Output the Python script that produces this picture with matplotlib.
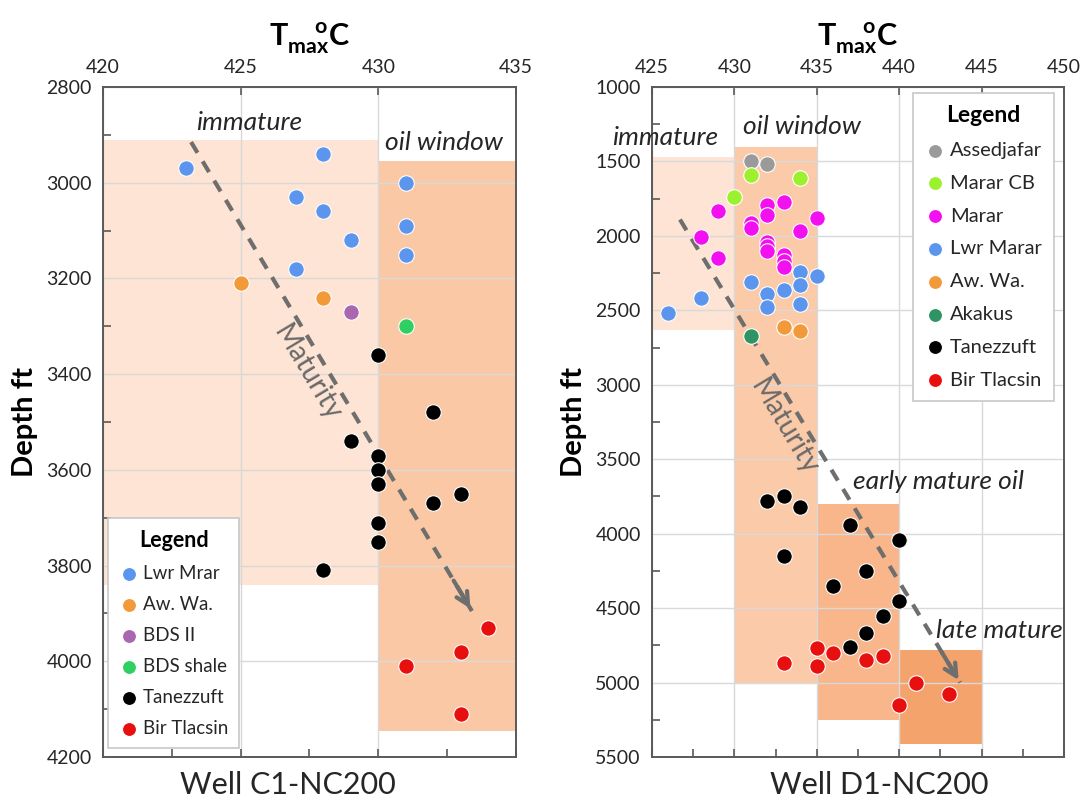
#!/usr/bin/env python3
"""Tmax vs depth for wells C1-NC200 and D1-NC200."""
import matplotlib
matplotlib.use('Agg')
import matplotlib.pyplot as plt
from matplotlib.ticker import MultipleLocator

plt.rcParams['font.family'] = ['Lato', 'DejaVu Sans']
plt.rcParams['mathtext.fontset'] = 'custom'
plt.rcParams['mathtext.rm'] = 'Lato'
plt.rcParams['mathtext.bf'] = 'Lato:bold'

# ---- Well C1-NC200 (Tmax degC, depth ft) ----
c1_lwr_mrar_t = [423, 428, 427, 428, 429, 427, 431, 431, 431]
c1_lwr_mrar_d = [2970, 2940, 3030, 3060, 3120, 3180, 3000, 3090, 3150]
c1_aw_wa_t = [425, 428]
c1_aw_wa_d = [3210, 3240]
c1_bds2_t = [429]
c1_bds2_d = [3270]
c1_bds_shale_t = [431]
c1_bds_shale_d = [3300]
c1_tanezzuft_t = [430, 432, 429, 430, 430, 430, 432, 433, 430, 430, 428]
c1_tanezzuft_d = [3360, 3480, 3540, 3570, 3600, 3630, 3670, 3650, 3710, 3750, 3810]
c1_bir_tlacsin_t = [434, 433, 431, 433]
c1_bir_tlacsin_d = [3930, 3980, 4010, 4110]

# ---- Well D1-NC200 ----
d1_assedjafar_t = [431, 432]
d1_assedjafar_d = [1500, 1520]
d1_marar_cb_t = [431, 434, 430]
d1_marar_cb_d = [1590, 1610, 1740]
d1_marar_t = [429, 432, 433, 432, 435, 431, 431, 434, 428, 432, 432, 432, 433, 433, 429, 433]
d1_marar_d = [1830, 1790, 1770, 1860, 1880, 1910, 1950, 1970, 2010, 2040, 2070, 2100,
              2130, 2170, 2150, 2210]
d1_lwr_marar_t = [434, 435, 431, 434, 433, 432, 428, 426, 432, 434]
d1_lwr_marar_d = [2240, 2270, 2310, 2330, 2360, 2390, 2420, 2520, 2480, 2460]
d1_aw_wa_t = [433, 434]
d1_aw_wa_d = [2610, 2640]
d1_akakus_t = [431]
d1_akakus_d = [2670]
d1_tanezzuft_t = [432, 433, 434, 437, 440, 433, 438, 436, 440, 439, 438, 437]
d1_tanezzuft_d = [3780, 3750, 3820, 3940, 4040, 4150, 4250, 4350, 4450, 4550, 4670, 4760]
d1_bir_tlacsin_t = [435, 436, 438, 439, 433, 435, 441, 443, 440]
d1_bir_tlacsin_d = [4770, 4800, 4850, 4820, 4870, 4890, 5000, 5080, 5150]

# maturity zones: (t0, t1, top depth, bottom depth)
c1_zones = [(420, 430, 2910, 3840), (430, 435, 2955, 4145)]
d1_zones = [(425, 430, 1470, 2630), (430, 435, 1400, 5000),
            (435, 440, 3800, 5250), (440, 445, 4780, 5410)]

# maturity arrows: (t_start, d_start, t_end, d_end)
c1_arrow = (423.2, 2915, 433.4, 3895)
d1_arrow = (426.7, 1890, 443.7, 5000)

COLORS = {
    'Lwr Mrar': '#5b95ee', 'Lwr Marar': '#5b95ee', 'Aw. Wa.': '#f29a3a',
    'BDS II': '#a967b0', 'BDS shale': '#2fcf62', 'Tanezzuft': '#000000',
    'Bir Tlacsin': '#e8100f', 'Assedjafar': '#9a9a9a', 'Marar CB': '#9cf02e',
    'Marar': '#f20ff0', 'Akakus': '#2f9463',
}
SPINE = '#595959'
ARROW = '#6e6e6e'
TXT = '#262626'


def style_axes(ax, xlim, ylim, xmaj, ymaj, ymin):
    ax.set_xlim(*xlim)
    ax.set_ylim(ylim[1], ylim[0])
    ax.xaxis.set_major_locator(MultipleLocator(xmaj))
    ax.xaxis.set_minor_locator(MultipleLocator(xmaj / 2))
    ax.yaxis.set_major_locator(MultipleLocator(ymaj))
    ax.yaxis.set_minor_locator(MultipleLocator(ymin))
    ax.tick_params(axis='x', which='major', top=True, bottom=True, labeltop=True,
                   labelbottom=False, direction='in', length=6, width=1.2,
                   color=SPINE, labelsize=14, pad=8, labelcolor=TXT)
    ax.tick_params(axis='x', which='minor', top=False, bottom=True,
                   direction='in', length=6, width=1.2, color=SPINE)
    ax.tick_params(axis='y', which='major', length=0, labelsize=14, pad=8,
                   labelcolor=TXT)
    ax.tick_params(axis='y', which='minor', left=True, direction='in',
                   length=6, width=1.2, color=SPINE)
    for s in ax.spines.values():
        s.set_color(SPINE)
        s.set_linewidth(1.4)
    ax.set_axisbelow('line')
    ax.grid(True, which='major', color='#d9d9d9', lw=1.0)
    ax.xaxis.set_label_position('top')
    ax.set_xlabel(r'$\mathbf{T}_{\mathbf{max}}^{\hspace{1.3}\mathbf{o}}\mathbf{C}$',
                  fontsize=22, labelpad=10, color='black')
    ax.set_ylabel('Depth ft', fontsize=21, fontweight='bold', labelpad=6)


def draw_zones(ax, zones, colors):
    for (t0, t1, d0, d1), c in zip(zones, colors):
        ax.fill_between([t0, t1], d0, d1, color=c, lw=0, zorder=1)


def draw_arrow(ax, arrow):
    t0, d0, t1, d1 = arrow
    ax.plot([t0, t1], [d0, d1], color=ARROW, lw=3, ls=(0, (3.0, 2.4)), zorder=2)
    ax.annotate('', xy=(t1, d1), xytext=(t0 + 0.93 * (t1 - t0), d0 + 0.93 * (d1 - d0)),
                arrowprops=dict(arrowstyle='->', color=ARROW, lw=3,
                                mutation_scale=22), zorder=2)


def scatter(ax, t, d, name):
    ax.scatter(t, d, s=125, color=COLORS[name], edgecolor='white', lw=0.8,
               zorder=3, label=name)


def add_legend(ax, loc, anchor, size, spacing):
    leg = ax.legend(loc=loc, bbox_to_anchor=anchor, borderaxespad=0,
                    title='Legend',
                    title_fontproperties={'weight': 'bold', 'size': size + 2},
                    fontsize=size, fancybox=False, framealpha=1, edgecolor='#c8c8c8',
                    handletextpad=0.25, labelspacing=spacing, borderpad=0.6,
                    handlelength=1.0, markerscale=0.9, labelcolor=TXT)
    leg.get_frame().set_linewidth(1.2)
    leg.set_zorder(5)


fig = plt.figure(figsize=(10.83, 8.08), dpi=100)
ax1 = fig.add_axes([0.0951, 0.0631, 0.3813, 0.8292])
ax2 = fig.add_axes([0.6020, 0.0631, 0.3804, 0.8292])

# ---- left panel ----
style_axes(ax1, (420, 435), (2800, 4200), 5, 200, 100)
draw_zones(ax1, c1_zones, ['#fde4d4', '#fac8a5'])
draw_arrow(ax1, c1_arrow)
scatter(ax1, c1_lwr_mrar_t, c1_lwr_mrar_d, 'Lwr Mrar')
scatter(ax1, c1_aw_wa_t, c1_aw_wa_d, 'Aw. Wa.')
scatter(ax1, c1_bds2_t, c1_bds2_d, 'BDS II')
scatter(ax1, c1_bds_shale_t, c1_bds_shale_d, 'BDS shale')
scatter(ax1, c1_tanezzuft_t, c1_tanezzuft_d, 'Tanezzuft')
scatter(ax1, c1_bir_tlacsin_t, c1_bir_tlacsin_d, 'Bir Tlacsin')
ax1.text(425.3, 2875, 'immature', fontsize=19, style='italic', ha='center', va='center',
         color=TXT)
ax1.text(432.4, 2915, 'oil window', fontsize=19, style='italic', ha='center', va='center',
         color=TXT)
ax1.text(427.4, 3398, 'Maturity', fontsize=20, rotation=-59, ha='center', va='center',
         color='#6a6a6a', rotation_mode='anchor')
add_legend(ax1, 'lower left', (0.012, 0.013), 13.5, 0.75)

# ---- right panel ----
style_axes(ax2, (425, 450), (1000, 5500), 5, 500, 250)
draw_zones(ax2, d1_zones, ['#fde4d4', '#fbcaa8', '#f8b68a', '#f5a36d'])
draw_arrow(ax2, d1_arrow)
scatter(ax2, d1_assedjafar_t, d1_assedjafar_d, 'Assedjafar')
scatter(ax2, d1_marar_cb_t, d1_marar_cb_d, 'Marar CB')
scatter(ax2, d1_marar_t, d1_marar_d, 'Marar')
scatter(ax2, d1_lwr_marar_t, d1_lwr_marar_d, 'Lwr Marar')
scatter(ax2, d1_aw_wa_t, d1_aw_wa_d, 'Aw. Wa.')
scatter(ax2, d1_akakus_t, d1_akakus_d, 'Akakus')
scatter(ax2, d1_tanezzuft_t, d1_tanezzuft_d, 'Tanezzuft')
scatter(ax2, d1_bir_tlacsin_t, d1_bir_tlacsin_d, 'Bir Tlacsin')
ax2.text(425.8, 1342, 'immature', fontsize=19, style='italic', ha='center', va='center',
         color=TXT, clip_on=False)
ax2.text(434.1, 1266, 'oil window', fontsize=19, style='italic', ha='center', va='center',
         color=TXT)
ax2.text(442.4, 3650, 'early mature oil', fontsize=19, style='italic', ha='center',
         va='center', color=TXT)
ax2.text(446.1, 4647, 'late mature', fontsize=19, style='italic', ha='center', va='center',
         color=TXT)
ax2.text(433.0, 3281, 'Maturity', fontsize=20, rotation=-59, ha='center', va='center',
         color='#6a6a6a', rotation_mode='anchor')
add_legend(ax2, 'upper right', (0.976, 0.991), 14.5, 0.78)

fig.text(0.266, 0.028, 'Well C1-NC200', fontsize=22, ha='center', va='center',
         color=TXT)
fig.text(0.8116, 0.028, 'Well D1-NC200', fontsize=22, ha='center', va='center',
         color=TXT)

fig.savefig('out.png', dpi=100)
